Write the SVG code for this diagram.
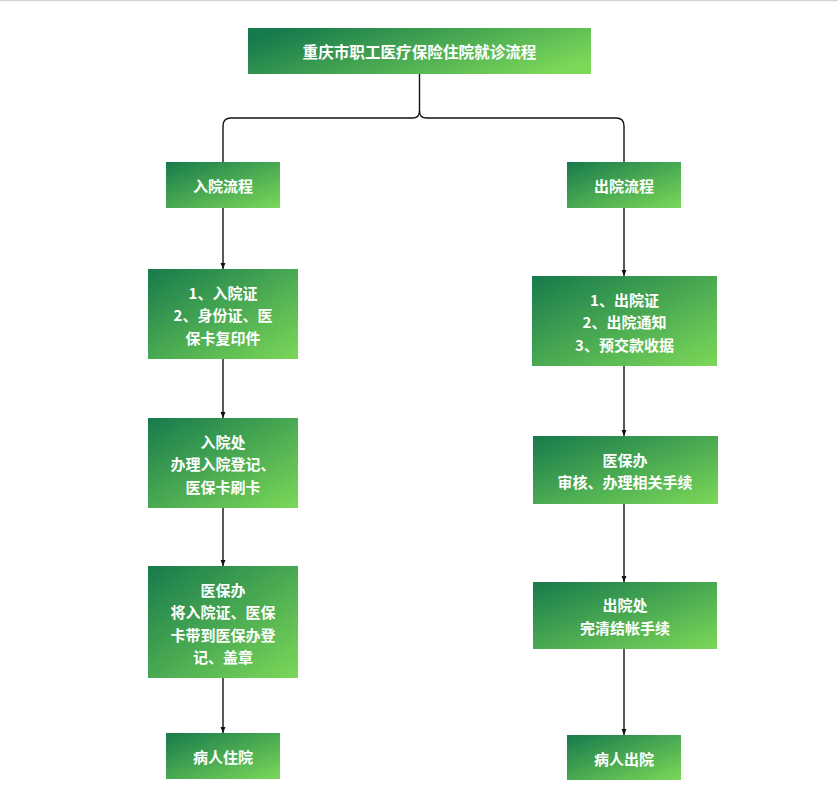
<svg xmlns="http://www.w3.org/2000/svg" width="838" height="804" viewBox="0 0 838 804">
<defs>
<linearGradient id="g" x1="0" y1="0" x2="1" y2="1">
<stop offset="0" stop-color="#177a4c"/>
<stop offset="1" stop-color="#7bd858"/>
</linearGradient>
<linearGradient id="gw" x1="0" y1="0.3" x2="1" y2="0.7">
<stop offset="0" stop-color="#177a4c"/>
<stop offset="1" stop-color="#7bd858"/>
</linearGradient>
<marker id="ah" viewBox="0 0 6 6" refX="6" refY="3" markerWidth="6" markerHeight="6" markerUnits="userSpaceOnUse" orient="auto">
<path d="M0,0.5 L6,3 L0,5.5 Z" fill="#111"/>
</marker>
<style>
.box{fill:url(#g)}
.wide{fill:url(#gw)}
text{font-family:"Noto Sans CJK SC","Noto Sans",sans-serif;font-size:15px;font-weight:bold;fill:#ffffff;text-anchor:middle;dominant-baseline:central}
.title{font-size:15.6px}
.ln{fill:none;stroke:#111;stroke-width:1.4}
</style>
</defs>
<rect x="0" y="0" width="838" height="804" fill="#ffffff"/>
<line x1="0" y1="0.5" x2="838" y2="0.5" stroke="#d4d4d4" stroke-width="1.5"/>
<g id="connectors">
<path class="ln" d="M419.5,74 V111 Q419.5,118 412.5,118 H231 Q223,118 223,126 V162"/>
<path class="ln" d="M419.5,111 Q419.5,118 426.5,118 H616 Q624,118 624,126 V162"/>
<path class="ln" d="M223,208 V269" marker-end="url(#ah)"/>
<path class="ln" d="M223,359 V418" marker-end="url(#ah)"/>
<path class="ln" d="M223,508 V566" marker-end="url(#ah)"/>
<path class="ln" d="M223,678 V733" marker-end="url(#ah)"/>
<path class="ln" d="M624,208 V276" marker-end="url(#ah)"/>
<path class="ln" d="M624,366 V436" marker-end="url(#ah)"/>
<path class="ln" d="M624,504 V582" marker-end="url(#ah)"/>
<path class="ln" d="M624,649 V735" marker-end="url(#ah)"/>
</g>
<g id="title">
<rect class="wide" x="248" y="28" width="343" height="46"/>
<text class="title" x="419.5" y="51">重庆市职工医疗保险住院就诊流程</text>
</g>
<g id="admit">
<rect class="box" x="166" y="162" width="114" height="46"/>
<text x="223" y="185">入院流程</text>
</g>
<g id="admit1">
<rect class="box" x="148" y="269" width="150" height="90"/>
<text x="223" y="292">1、入院证</text>
<text x="223" y="314.5">2、身份证、医</text>
<text x="223" y="337">保卡复印件</text>
</g>
<g id="admit2">
<rect class="box" x="148" y="418" width="150" height="90"/>
<text x="223" y="441">入院处</text>
<text x="223" y="463.5">办理入院登记、</text>
<text x="223" y="486">医保卡刷卡</text>
</g>
<g id="admit3">
<rect class="box" x="148" y="566" width="150" height="112"/>
<text x="223" y="589">医保办</text>
<text x="223" y="611.5">将入院证、医保</text>
<text x="223" y="634">卡带到医保办登</text>
<text x="223" y="656.5">记、盖章</text>
</g>
<g id="admit4">
<rect class="box" x="166" y="733" width="114" height="46"/>
<text x="223" y="756">病人住院</text>
</g>
<g id="discharge">
<rect class="box" x="567" y="162" width="114" height="46"/>
<text x="624" y="185">出院流程</text>
</g>
<g id="discharge1">
<rect class="box" x="532" y="276" width="185" height="90"/>
<text x="624.5" y="299">1、出院证</text>
<text x="624.5" y="321.5">2、出院通知</text>
<text x="624.5" y="344">3、预交款收据</text>
</g>
<g id="discharge2">
<rect class="box" x="533" y="436" width="185" height="68"/>
<text x="625" y="459">医保办</text>
<text x="625" y="481.5">审核、办理相关手续</text>
</g>
<g id="discharge3">
<rect class="box" x="533" y="582" width="184" height="67"/>
<text x="625" y="604.5">出院处</text>
<text x="625" y="627">完清结帐手续</text>
</g>
<g id="discharge4">
<rect class="box" x="567" y="735" width="114" height="45"/>
<text x="624" y="758">病人出院</text>
</g>
</svg>
